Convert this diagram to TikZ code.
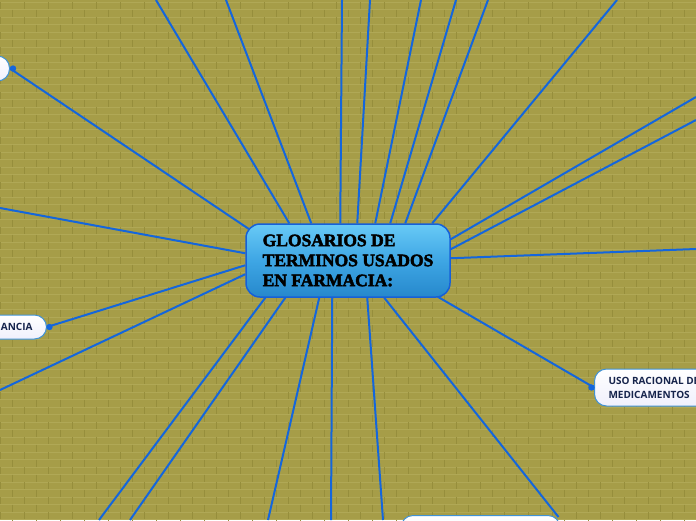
\documentclass[tikz,border=0pt]{standalone}
\usepackage{fontspec}
\usepackage{tikz}
\usetikzlibrary{positioning}
\newfontfamily\glosfont[FakeBold=2.6]{Liberation Serif Bold}
\newfontfamily\branchfont{Open Sans}[UprightFont={* Bold}]
\definecolor{wallcolor}{RGB}{166,157,72}
\definecolor{brickhi}{RGB}{176,168,86}
\definecolor{brickdk}{RGB}{150,142,60}
\definecolor{linkblue}{RGB}{20,102,220}
\definecolor{rootborder}{RGB}{22,96,216}
\definecolor{roottop}{RGB}{104,202,246}
\definecolor{rootmid}{RGB}{62,166,228}
\definecolor{rootbot}{RGB}{38,136,204}
\definecolor{branchborder}{RGB}{64,146,214}
\definecolor{branchtext}{RGB}{22,36,76}
\pgfdeclarelayer{bricks}
\pgfdeclarelayer{links}
\pgfsetlayers{bricks,links,main}

\begin{document}
\begin{tikzpicture}[x=1pt, y=-1pt,
		rootnode/.style = {draw=rootborder, line width=1.5pt, rounded corners=14pt, top color=roottop, bottom color=rootbot, middle color=rootmid, align=left, inner sep=2pt, minimum width=204pt, minimum height=73pt, font=\glosfont\fontsize{17.5}{20}\selectfont, text=black},
		branchnode/.style = {draw=branchborder, line width=1pt, rounded corners=12pt, top color=white, bottom color=black!18!blue!6!white, align=left, inner xsep=14pt, inner ysep=2pt, font=\branchfont\fontsize{10}{14}\selectfont, text=branchtext},
		link/.style = {draw=linkblue, line width=2pt},
		knob/.style = {fill=linkblue}]
	\useasboundingbox (0,0) rectangle (696,520);
	\clip (0,0) rectangle (696,520);

	% wall
	\begin{pgfonlayer}{bricks}
		\fill[wallcolor] (0,0) rectangle (696,520);
		\foreach \r in {0,...,69}{
			\pgfmathsetmacro\yy{\r*7.5+2}
			\pgfmathsetmacro\off{mod(\r,2)*12}
			\draw[brickhi, line width=0.8pt] (0,\yy) -- (696,\yy);
			\draw[brickdk, line width=0.7pt] foreach \c in {0,...,29} {(\c*24+\off,\yy) -- ++(0,7.5)};
		}
	\end{pgfonlayer}

	\node [rootnode] (glos) at (348,260.5) {GLOSARIOS DE\\TERMINOS USADOS\\EN FARMACIA:};

	\node [branchnode, anchor=east, minimum width=40pt, minimum height=25pt] (n1) at (10,68.5) {};
	\node [branchnode, anchor=east, minimum height=24pt] (farm) at (47,327) {ANCIA};
	\node [branchnode, anchor=west, minimum height=37pt] (uso) at (594,387.5) {USO RACIONAL DE\\MEDICAMENTOS};
	\node [branchnode, anchor=north, minimum width=159pt, minimum height=30pt] (bnode) at (480.5,515) {};

	\coordinate (t1) at (156,0);
	\coordinate (t2) at (226,0);
	\coordinate (t3) at (342,0);
	\coordinate (t4) at (370,0);
	\coordinate (t5) at (421,0);
	\coordinate (t6) at (456,0);
	\coordinate (t7) at (488,0);
	\coordinate (t8) at (617,0);
	\coordinate (l1) at (0,208);
	\coordinate (l2) at (0,390);
	\coordinate (r1) at (696,97);
	\coordinate (r2) at (696,120);
	\coordinate (r3) at (696,249);
	\coordinate (b1) at (99,520);
	\coordinate (b2) at (130,520);
	\coordinate (b3) at (268,520);
	\coordinate (b4) at (331,520);
	\coordinate (b5) at (383,520);

	\begin{pgfonlayer}{links}
		\draw[link] (t1) -- ([xshift=44pt]glos.north west);
		\draw[link] (t2) -- ([xshift=66pt]glos.north west);
		\draw[link] (t3) -- ([xshift=95pt]glos.north west);
		\draw[link] (t4) -- ([xshift=112pt]glos.north west);
		\draw[link] (t5) -- ([xshift=130pt]glos.north west);
		\draw[link] (t6) -- ([xshift=145pt]glos.north west);
		\draw[link] (t7) -- ([xshift=160pt]glos.north west);
		\draw[link] (t8) -- ([xshift=187pt]glos.north west);
		\draw[link] (n1.east) -- ([xshift=4pt,yshift=-6pt]glos.north west);
		\draw[link] (l1) -- ([yshift=-30pt]glos.north west);
		\draw[link] (farm.east) -- ([yshift=-42pt]glos.north west);
		\draw[link] (l2) -- ([yshift=-51pt]glos.north west);
		\draw[link] (b1) -- ([xshift=20pt]glos.south west);
		\draw[link] (b2) -- ([xshift=40pt]glos.south west);
		\draw[link] (b3) -- ([xshift=74pt]glos.south west);
		\draw[link] (b4) -- ([xshift=87pt]glos.south west);
		\draw[link] (b5) -- ([xshift=122pt]glos.south west);
		\draw[link] ([xshift=139pt]glos.south west) -- ([xshift=-2pt,yshift=-2pt]bnode.north east);
		\draw[link] ([xshift=-13pt,yshift=1pt]glos.south east) -- (uso.west);
		\draw[link] (r1) -- ([yshift=-16pt]glos.north east);
		\draw[link] (r2) -- ([yshift=-26pt]glos.north east);
		\draw[link] (r3) -- ([yshift=-35pt]glos.north east);
	\end{pgfonlayer}

	\fill[knob] ([xshift=3pt]n1.east) circle (3.2pt);
	\fill[knob] ([xshift=2.5pt]farm.east) circle (3.2pt);
	\fill[knob] ([xshift=-2.5pt]uso.west) circle (3.2pt);
\end{tikzpicture}
\end{document}
